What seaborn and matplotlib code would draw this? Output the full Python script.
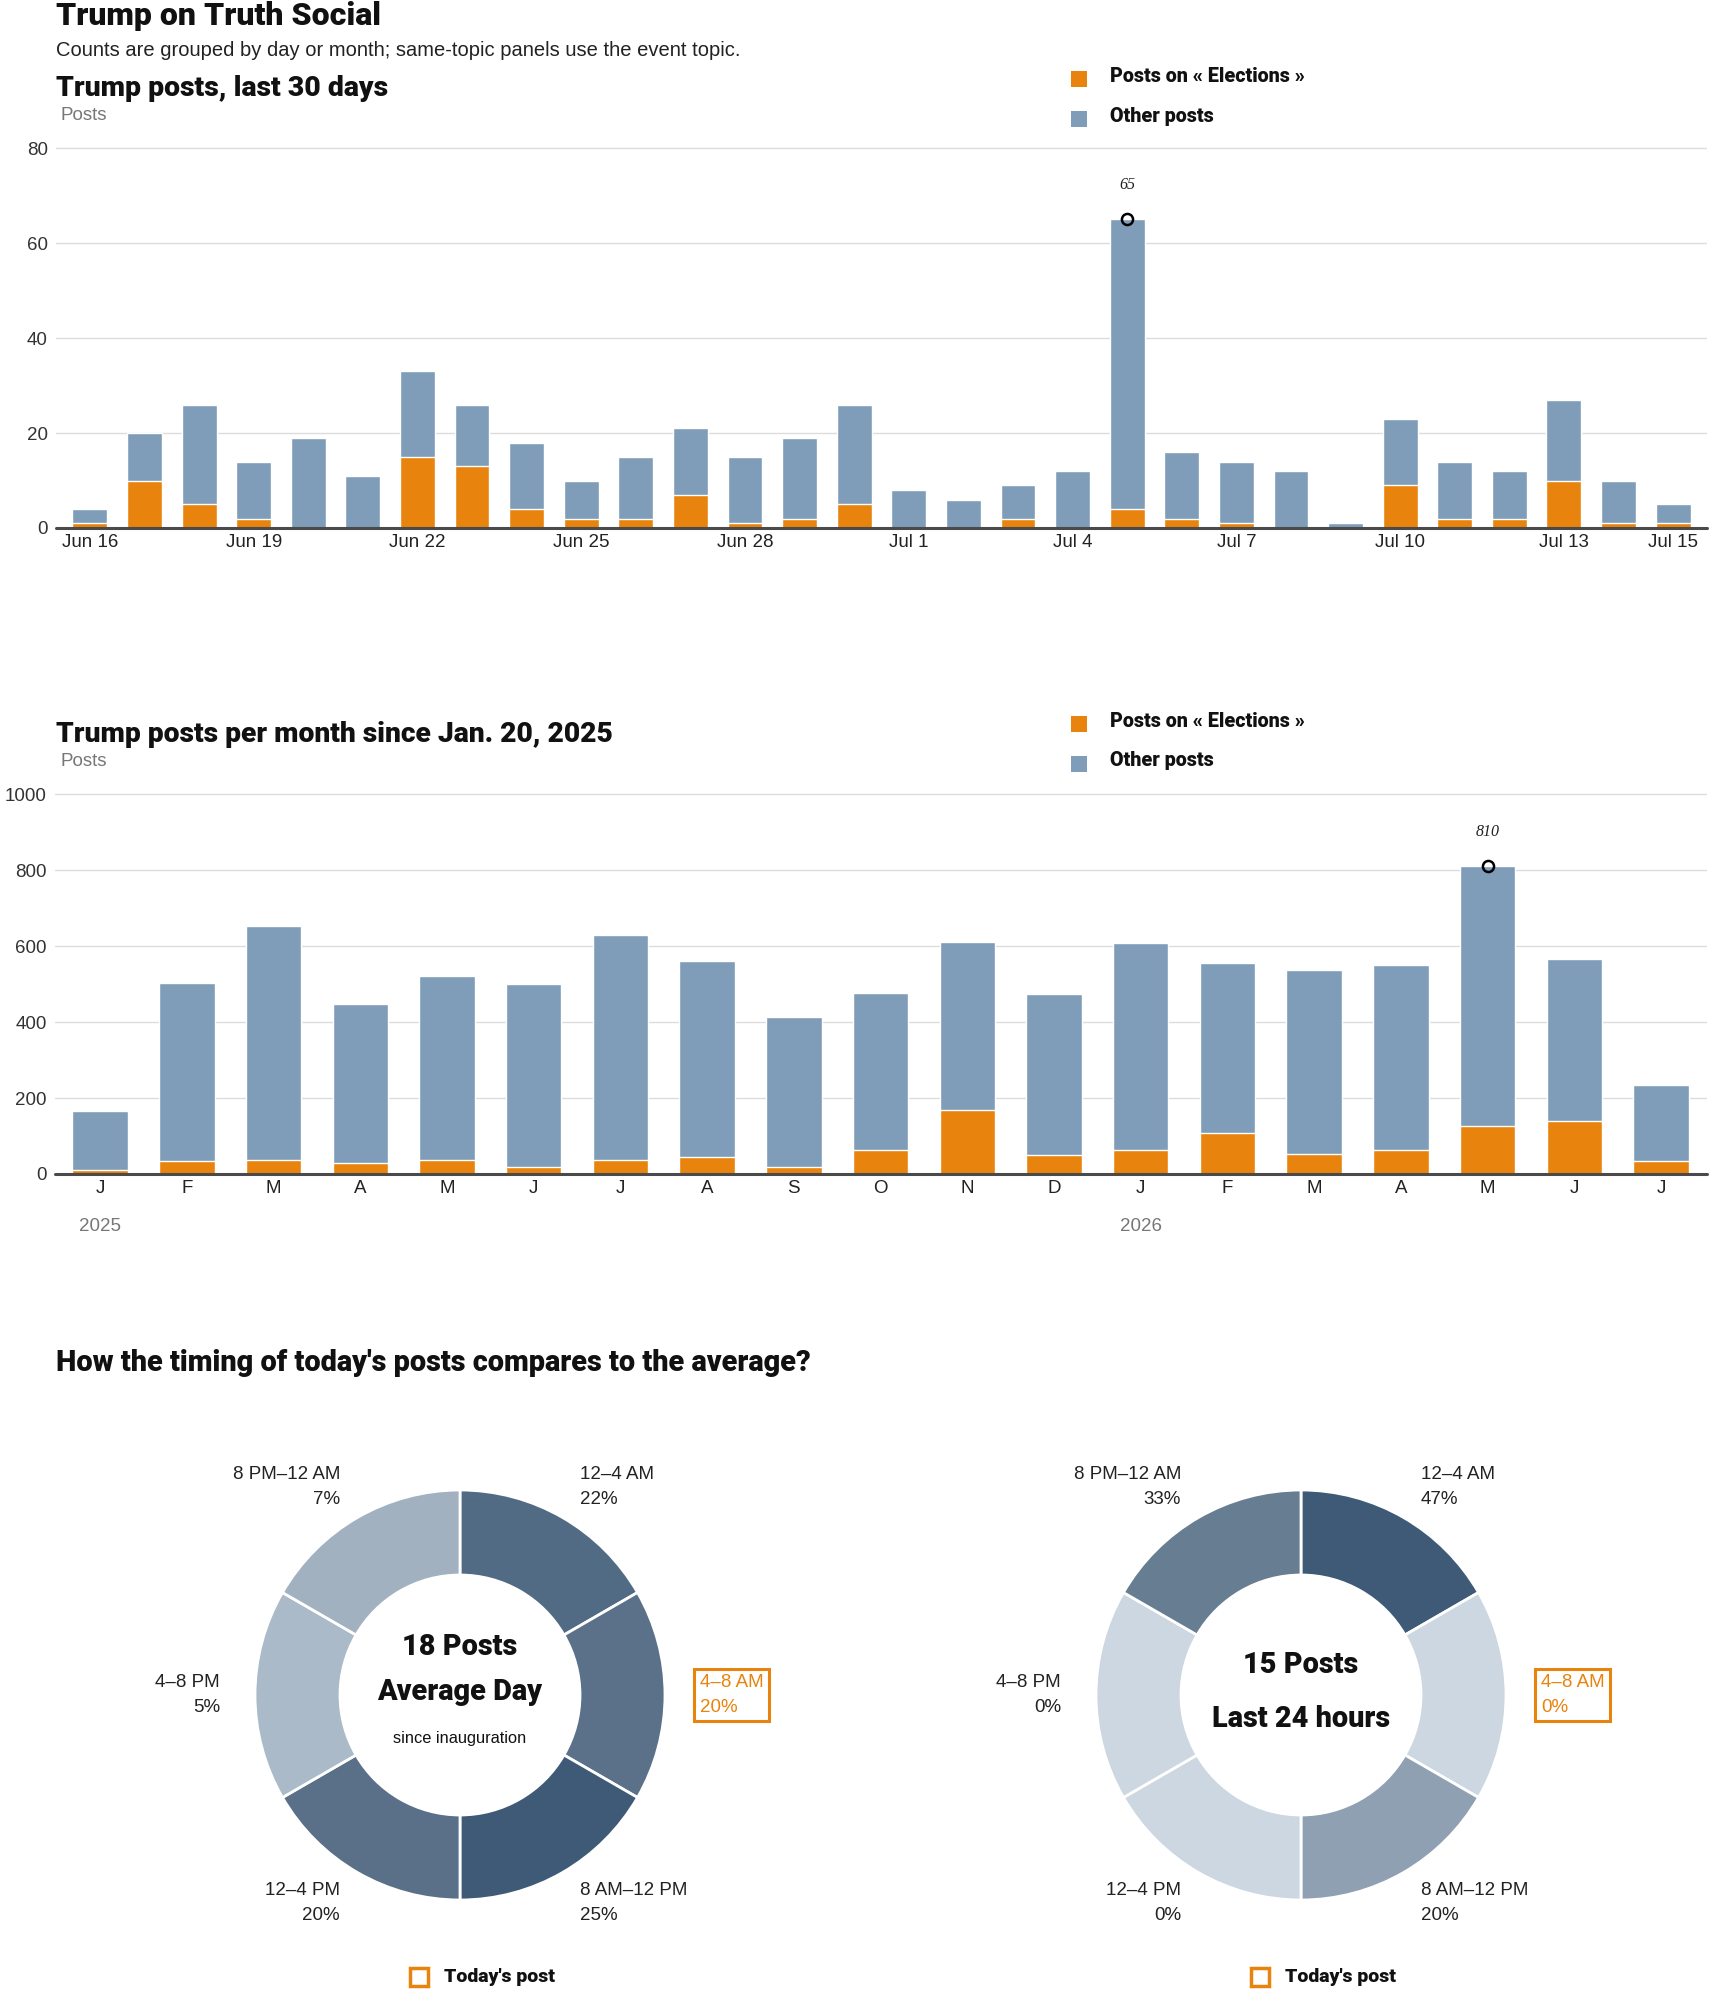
import numpy as np
import pandas as pd
import seaborn as sns
import matplotlib.pyplot as plt
from matplotlib.patches import Rectangle

# ---- data ----
days = ['Jun 16', 'Jun 17', 'Jun 18', 'Jun 19', 'Jun 20', 'Jun 21', 'Jun 22', 'Jun 23',
        'Jun 24', 'Jun 25', 'Jun 26', 'Jun 27', 'Jun 28', 'Jun 29', 'Jun 30', 'Jul 1',
        'Jul 2', 'Jul 3', 'Jul 4', 'Jul 5', 'Jul 6', 'Jul 7', 'Jul 8', 'Jul 9', 'Jul 10',
        'Jul 11', 'Jul 12', 'Jul 13', 'Jul 14', 'Jul 15']
daily_total = [4, 20, 26, 14, 19, 11, 33, 26, 18, 10, 15, 21, 15, 19, 26, 8,
               6, 9, 12, 65, 16, 14, 12, 1, 23, 14, 12, 27, 10, 5]
daily_elections = [1, 10, 5, 2, 0, 0, 15, 13, 4, 2, 2, 7, 1, 2, 5, 0,
                   0, 2, 0, 4, 2, 1, 0, 0, 9, 2, 2, 10, 1, 1]
day_ticks = ['Jun 16', 'Jun 19', 'Jun 22', 'Jun 25', 'Jun 28', 'Jul 1',
             'Jul 4', 'Jul 7', 'Jul 10', 'Jul 13', 'Jul 15']

months = ['J', 'F', 'M', 'A', 'M', 'J', 'J', 'A', 'S', 'O', 'N', 'D',
          'J', 'F', 'M', 'A', 'M', 'J', 'J']
month_total = [165, 504, 654, 447, 520, 499, 630, 562, 412, 477, 612, 473,
               607, 556, 538, 549, 810, 567, 234]
month_elections = [10, 34, 37, 30, 37, 19, 37, 45, 19, 64, 169, 51,
                   64, 109, 52, 64, 126, 139, 34]
years = ['2025', '2026']
year_start = [0, 12]

slots = ['12–4 AM', '4–8 AM', '8 AM–12 PM', '12–4 PM', '4–8 PM', '8 PM–12 AM']
avg_share = [22, 20, 25, 20, 5, 7]
today_share = [47, 0, 20, 0, 0, 33]
today_slot = '4–8 AM'

ORANGE = '#e8830e'
BLUE = '#7f9db9'
avg_colors = ['#526b84', '#5b7189', '#3e5a76', '#5a7089', '#aabac8', '#a2b1c0']
today_colors = ['#3e5a76', '#ccd7e1', '#8fa0b2', '#ccd7e1', '#ccd7e1', '#677d92']

sns.set_theme(style='white')
plt.rcParams['font.family'] = ['Liberation Sans', 'DejaVu Sans']
HEAVY = dict(family=['Roboto', 'Liberation Sans', 'DejaVu Sans'], fontweight='black',
             color='#111111')

W, H = 1710, 1993
fig = plt.figure(figsize=(W / 100, H / 100), dpi=100)


def px_axes(left, top, right, bottom):
    return fig.add_axes([left / W, 1 - bottom / H, (right - left) / W, (bottom - top) / H])


def ftext(x, y, s, **kw):
    kw.setdefault('va', 'center')
    fig.text(x / W, 1 - y / H, s, **kw)


def square(x, y, size, **kw):
    fig.add_artist(Rectangle((x / W, 1 - (y + size / 2) / H), size / W, size / H,
                             transform=fig.transFigure, **kw))


def stacked(ax, total, part, ymax, step, ticks_at, tick_labels, pad):
    n = len(total)
    sns.barplot(x=np.arange(n), y=total, color=BLUE, saturation=1, width=0.64,
                ax=ax, zorder=2)
    sns.barplot(x=np.arange(n), y=part, color=ORANGE, saturation=1, width=0.64,
                ax=ax, zorder=3)
    ax.set_xlim(-pad[0], n - 1 + pad[1])
    ax.set_ylim(0, ymax * 1.003)
    ax.set_yticks(np.arange(0, ymax + 1, step))
    ax.grid(axis='y', color='#dcdcdc', lw=1)
    ax.set_axisbelow(True)
    for s in ax.spines.values():
        s.set_visible(False)
    ax.axhline(0, color='#4a4a4a', lw=2.2, zorder=4, clip_on=False)
    ax.set_xticks(ticks_at, tick_labels)
    ax.tick_params(axis='x', length=0, pad=4, labelsize=13.5, labelcolor='#222222')
    ax.tick_params(axis='y', length=0, pad=6, labelsize=13.5, labelcolor='#333333')
    ax.set_xlabel('')
    ax.set_ylabel('')
    i = int(np.argmax(total))
    ax.plot(i, total[i], 'o', mfc='none', mec='black', ms=8, mew=1.8, zorder=6, clip_on=False)
    ax.annotate(str(total[i]), (i, total[i]), xytext=(0, 25), textcoords='offset points',
                ha='center', va='center', fontsize=11.5, fontstyle='italic',
                family='Liberation Serif', color='#222222')


# ---- headers ----
ftext(56, 16, 'Trump on Truth Social', fontsize=23, **HEAVY)
ftext(56, 51, 'Counts are grouped by day or month; same-topic panels use the event topic.',
      fontsize=14.5, color='#222222')

# ---- daily chart ----
ftext(56, 88, 'Trump posts, last 30 days', fontsize=20.4, **HEAVY)
ftext(60, 115, 'Posts', fontsize=13.5, color='#777777')
square(1071, 79, 16, facecolor=ORANGE, edgecolor='none')
square(1071, 119, 16, facecolor=BLUE, edgecolor='none')
ftext(1110, 76, 'Posts on « Elections »', fontsize=14.2, **HEAVY)
ftext(1110, 116, 'Other posts', fontsize=14.2, **HEAVY)

ax1 = px_axes(56, 147, 1707, 528)
stacked(ax1, daily_total, daily_elections, 80, 20,
        [days.index(d) for d in day_ticks], day_ticks, (0.62, 0.62))

# ---- monthly chart ----
ftext(56, 734, 'Trump posts per month since Jan. 20, 2025', fontsize=20.3, **HEAVY)
ftext(60, 762, 'Posts', fontsize=13.5, color='#777777')
square(1071, 724, 16, facecolor=ORANGE, edgecolor='none')
square(1071, 764, 16, facecolor=BLUE, edgecolor='none')
ftext(1110, 722, 'Posts on « Elections »', fontsize=14.2, **HEAVY)
ftext(1110, 761, 'Other posts', fontsize=14.2, **HEAVY)

ax2 = px_axes(55, 793, 1707, 1174)
stacked(ax2, month_total, month_elections, 1000, 200,
        list(range(len(months))), months, (0.52, 0.53))
for yr, i in zip(years, year_start):
    ax2.annotate(yr, (i, 0), xycoords=('data', 'axes fraction'), xytext=(0, -38),
                 textcoords='offset points', ha='center', va='center',
                 fontsize=13.5, color='#777777')

# ---- donuts ----
ftext(56, 1363, "How the timing of today's posts compares to the average?",
      fontsize=20.8, **HEAVY)


def donut(cx, cy, shares, colors, center_lines):
    ax = px_axes(cx - 330, cy - 330, cx + 330, cy + 330)
    ax.pie([1] * len(slots), colors=colors, radius=205, startangle=90, counterclock=False,
           wedgeprops=dict(width=85, edgecolor='white', linewidth=2))
    ax.set_xlim(-330, 330)
    ax.set_ylim(-330, 330)
    ax.set_aspect('equal')
    ax.axis('off')
    for k, (slot, share) in enumerate(zip(slots, shares)):
        ang = np.deg2rad(60 - 60 * k)
        x, y = 240 * np.cos(ang), 240 * np.sin(ang)
        ha = 'left' if x > 1 else 'right'
        kw = dict(ha=ha, va='center', fontsize=13.5, linespacing=1.58, color='#222222')
        if slot == today_slot:
            kw['color'] = ORANGE
            kw['bbox'] = dict(boxstyle='square,pad=0.3', fc='none', ec=ORANGE, lw=2.2)
            kw['multialignment'] = 'left'
        ax.text(x, y, f'{slot}\n{share}%', **kw)
    for dy, txt, size, bold in center_lines:
        if bold:
            ax.text(0, -dy, txt, ha='center', va='center', fontsize=size, **HEAVY)
        else:
            ax.text(0, -dy, txt, ha='center', va='center', fontsize=size, color='#111111')
    square(cx - 50, 1977, 18, facecolor='none', edgecolor=ORANGE, lw=2.5)
    ftext(cx - 16, 1977, "Today's post", fontsize=14, **HEAVY)


donut(460, 1695, avg_share, avg_colors,
      [(-48, '18 Posts', 20.8, True),
       (-3, 'Average Day', 20.8, True),
       (43, 'since inauguration', 11.8, False)])
donut(1301, 1695, today_share, today_colors,
      [(-30, '15 Posts', 20.8, True),
       (24, 'Last 24 hours', 20.8, True)])

fig.savefig('out.png', dpi=100, facecolor='white')
